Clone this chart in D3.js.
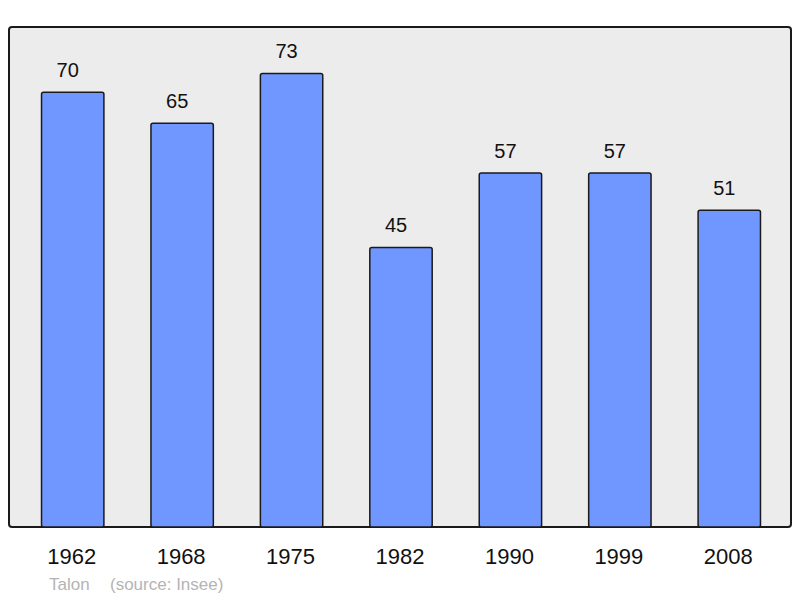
<!DOCTYPE html>
<html>
<head>
<meta charset="utf-8">
<script src="https://cdn.jsdelivr.net/npm/d3@7"></script>
<style>
  body { margin: 0; background: #fff; }
  svg { display: block; font-family: "Liberation Sans", Arial, sans-serif; }
</style>
</head>
<body>
<svg class="canvas" width="800" height="598"></svg>
<script>
// chart data
const years = ['1962', '1968', '1975', '1982', '1990', '1999', '2008'];
const population = [70, 65, 73, 45, 57, 57, 51];

const svg = d3.select('.canvas');

// panel background
svg
  .append('rect')
  .attr('x', 9)
  .attr('y', 27)
  .attr('width', 782)
  .attr('height', 500)
  .attr('rx', 3)
  .attr('fill', '#ececec')
  .attr('stroke', '#1a1a1a')
  .attr('stroke-width', 2);

// scales
const xScale = d3
  .scaleBand()
  .domain(years)
  .range([18, 784])
  .paddingInner(0.43)
  .paddingOuter(0.215);
const yScale = d3.scaleLinear().domain([0, 80]).range([527, 30]);

const data = years.map((y, i) => ({ year: y, value: population[i] }));

// bars
svg
  .selectAll('rect.bar')
  .data(data)
  .enter()
  .append('rect')
  .attr('class', 'bar')
  .attr('x', (d) => xScale(d.year))
  .attr('y', (d) => yScale(d.value))
  .attr('width', xScale.bandwidth())
  .attr('height', (d) => yScale(0) - yScale(d.value))
  .attr('rx', 2)
  .attr('fill', '#7097ff')
  .attr('stroke', '#1a1a1a')
  .attr('stroke-width', 1.5);

// value labels (sit a little left of the bar centre, as in the original)
svg
  .selectAll('text.value')
  .data(data)
  .enter()
  .append('text')
  .attr('class', 'value')
  .attr('x', (d) => xScale(d.year) + xScale.bandwidth() / 2 - 5)
  .attr('y', (d) => yScale(d.value) - 15)
  .attr('text-anchor', 'middle')
  .attr('font-size', 20)
  .attr('fill', '#111')
  .text((d) => d.value);

// x axis labels
svg
  .selectAll('text.year')
  .data(years)
  .enter()
  .append('text')
  .attr('class', 'year')
  .attr('x', (d) => xScale(d) + xScale.bandwidth() / 2 - 1)
  .attr('y', 564)
  .attr('text-anchor', 'middle')
  .attr('font-size', 22)
  .attr('fill', '#111')
  .text((d) => d);

// source note
svg
  .append('text')
  .attr('x', 49)
  .attr('y', 590)
  .attr('font-size', 17)
  .attr('fill', '#b4b4b4')
  .text('Talon');
svg
  .append('text')
  .attr('x', 110)
  .attr('y', 590)
  .attr('font-size', 17)
  .attr('fill', '#b4b4b4')
  .text('(source: Insee)');
</script>
</body>
</html>
